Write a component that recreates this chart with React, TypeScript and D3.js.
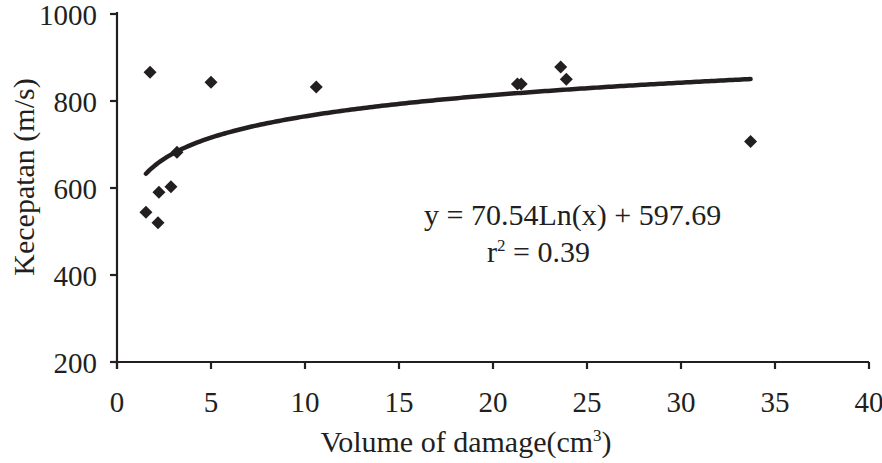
import React from "react";
import * as d3 from "d3";

const volumes = [1.54, 1.76, 2.18, 2.23, 2.87, 3.19, 5.0, 10.6, 21.3, 21.5, 23.6, 23.9, 33.7];
const speeds = [544, 866, 520, 590, 603, 682, 843, 832, 839, 839, 878, 850, 707];
const xTicks = [0, 5, 10, 15, 20, 25, 30, 35, 40];
const yTicks = [200, 400, 600, 800, 1000];
const fitA = 70.54;
const fitB = 597.69;
const equationText = "y = 70.54Ln(x) + 597.69";
const r2Value = "0.39";

const W = 882;
const H = 463;
const INK = "#231f20";
const FONT = "'Liberation Serif', 'Times New Roman', serif";

export default function App() {
  const x = d3.scaleLinear().domain([0, 40]).range([117, 869]);
  const y = d3.scaleLinear().domain([200, 1000]).range([362, 14]);

  const xMin = d3.min(volumes) as number;
  const xMax = d3.max(volumes) as number;
  const fitPts: [number, number][] = d3
    .range(0, 201)
    .map((i) => xMin + ((xMax - xMin) * i) / 200)
    .map((v) => [v, fitA * Math.log(v) + fitB]);
  const line = d3
    .line<[number, number]>()
    .x((d) => x(d[0]))
    .y((d) => y(d[1]) - 2);

  const r = 6.5;
  const diamond = (cx: number, cy: number) =>
    `M${cx},${cy - r}L${cx + r},${cy}L${cx},${cy + r}L${cx - r},${cy}Z`;

  return (
    <svg
      width={W}
      height={H}
      style={{ position: "absolute", left: 0, top: 0, background: "#fff" }}
      fontFamily={FONT}
    >
      <rect width={W} height={H} fill="#fff" />
      {/* axes */}
      <line x1={x(0)} x2={x(0)} y1={y(1000) - 2} y2={y(200) + 7} stroke={INK} strokeWidth={2.2} />
      <line x1={x(0)} x2={x(40)} y1={y(200)} y2={y(200)} stroke={INK} strokeWidth={2.2} />
      {yTicks.map((t) => (
        <g key={"y" + t}>
          <line x1={x(0) - 7} x2={x(0)} y1={y(t)} y2={y(t)} stroke={INK} strokeWidth={2.2} />
          <text
            x={97}
            y={y(t) + 11}
            textAnchor="end"
            fontSize={29}
            fill={INK}
          >
            {t}
          </text>
        </g>
      ))}
      {xTicks.map((t) => (
        <g key={"x" + t}>
          <line x1={x(t)} x2={x(t)} y1={y(200)} y2={y(200) + 7} stroke={INK} strokeWidth={2.2} />
          <text x={x(t)} y={412} textAnchor="middle" fontSize={29} fill={INK}>
            {t}
          </text>
        </g>
      ))}
      {/* axis titles */}
      <text x={466} y={452} textAnchor="middle" fontSize={30} fill={INK}>
        Volume of damage(cm<tspan dy={-11} fontSize={17}>3</tspan>
        <tspan dy={11}>)</tspan>
      </text>
      <text
        transform={`translate(34,${177}) rotate(-90)`}
        textAnchor="middle"
        fontSize={30}
        fill={INK}
      >
        Kecepatan (m/s)
      </text>
      {/* trend line */}
      <path d={line(fitPts) || ""} fill="none" stroke={INK} strokeWidth={4.5} strokeLinecap="round" strokeLinejoin="round" />
      {/* points */}
      {volumes.map((v, i) => (
        <path key={i} d={diamond(x(v), y(speeds[i]))} fill={INK} />
      ))}
      {/* equation */}
      <text x={424} y={225} fontSize={30} fill={INK}>
        {equationText}
      </text>
      <text x={487} y={262} fontSize={30} fill={INK}>
        r<tspan dy={-11} fontSize={17}>2</tspan>
        <tspan dy={11}> = {r2Value}</tspan>
      </text>
    </svg>
  );
}
